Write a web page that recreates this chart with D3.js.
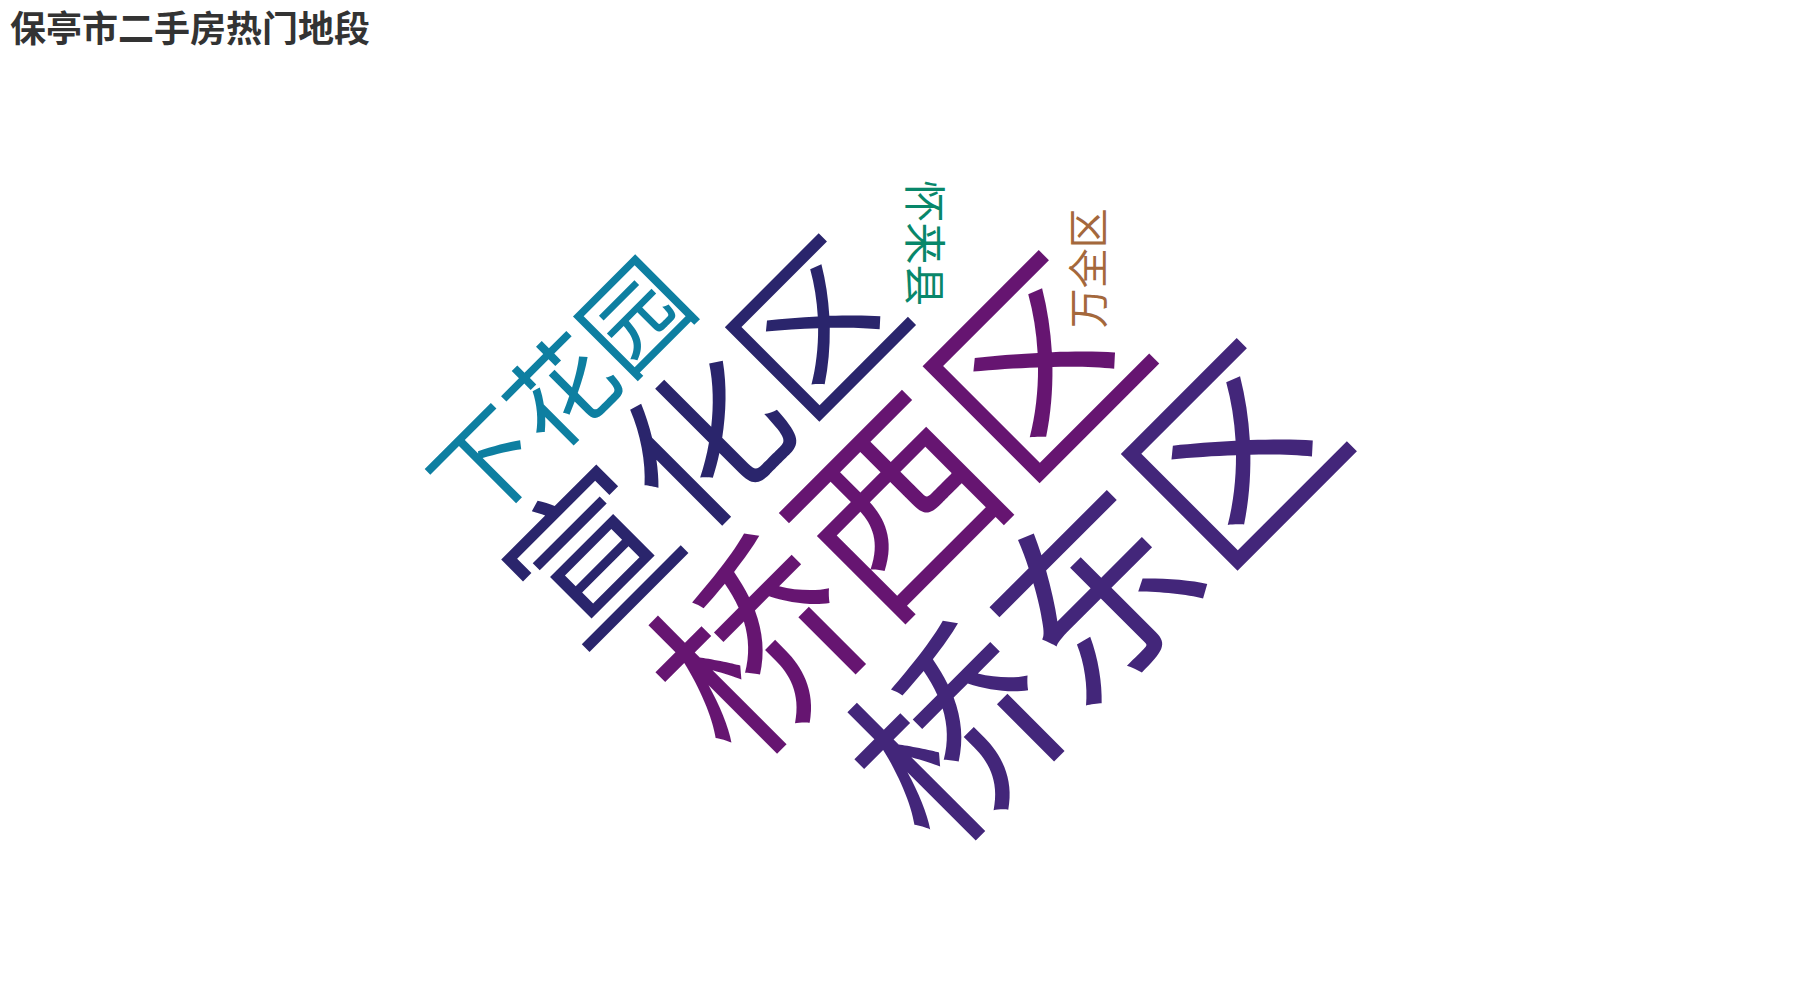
<!DOCTYPE html>
<html>
<head>
<meta charset="utf-8">
<script src="https://cdn.jsdelivr.net/npm/d3@7"></script>
<style>
  html, body { margin: 0; padding: 0; background: #fff; }
</style>
</head>
<body>
<div id="chart"></div>
<script>
const title = '保亭市二手房热门地段';
const words = ['桥西区', '桥东区', '宣化区', '下花园', '怀来县', '万全区'];
const counts = [1530, 1526, 1212, 753, 227, 210];
const rotations = [-45, -45, -45, -45, 90, -90];
// where the cloud layout put each word centre, in percent of the canvas
const placeX = [49.77, 60.79, 39.07, 31.14, 51.41, 60.42];
const placeY = [50.65, 59.39, 44.05, 39.05, 24.33, 26.83];
const palette = ['#661571', '#43267a', '#2a256c', '#0e7fa1', '#08876a', '#a4683c'];

const width = 1800,
  height = 1000;

const svg = d3
  .select('#chart')
  .append('svg')
  .attr('width', width)
  .attr('height', height)
  .style('display', 'block');

// Title
svg
  .append('text')
  .attr('x', 10)
  .attr('y', 42)
  .attr('fill', '#333')
  .style('font-family', '"Noto Sans CJK SC", "Noto Sans", sans-serif')
  .style('font-weight', 'bold')
  .style('font-size', '36px')
  .text(title);

// Scales
const sizeScale = d3
  .scaleLinear()
  .domain(d3.extent(counts))
  .range([40, 198]);
const xScale = d3
  .scaleLinear()
  .domain([0, 100])
  .range([0, width]);
const yScale = d3
  .scaleLinear()
  .domain([0, 100])
  .range([0, height]);
const color = d3
  .scaleOrdinal()
  .domain(words)
  .range(palette);

const data = words.map((w, i) => ({
  word: w,
  count: counts[i],
  rotate: rotations[i],
  px: placeX[i],
  py: placeY[i],
}));

// Words
const cloud = svg.append('g').attr('class', 'cloud');

cloud
  .selectAll('text')
  .data(data)
  .enter()
  .append('text')
  .attr('transform', d => `translate(${xScale(d.px)},${yScale(d.py)}) rotate(${d.rotate})`)
  .attr('text-anchor', 'middle')
  // put the centre of the ideographic em box on the anchor point
  .attr('y', d => sizeScale(d.count) * 0.38)
  .attr('fill', d => color(d.word))
  .style('font-family', '"Noto Sans CJK SC", sans-serif')
  .style('font-size', d => `${sizeScale(d.count)}px`)
  .text(d => d.word);
</script>
</body>
</html>
